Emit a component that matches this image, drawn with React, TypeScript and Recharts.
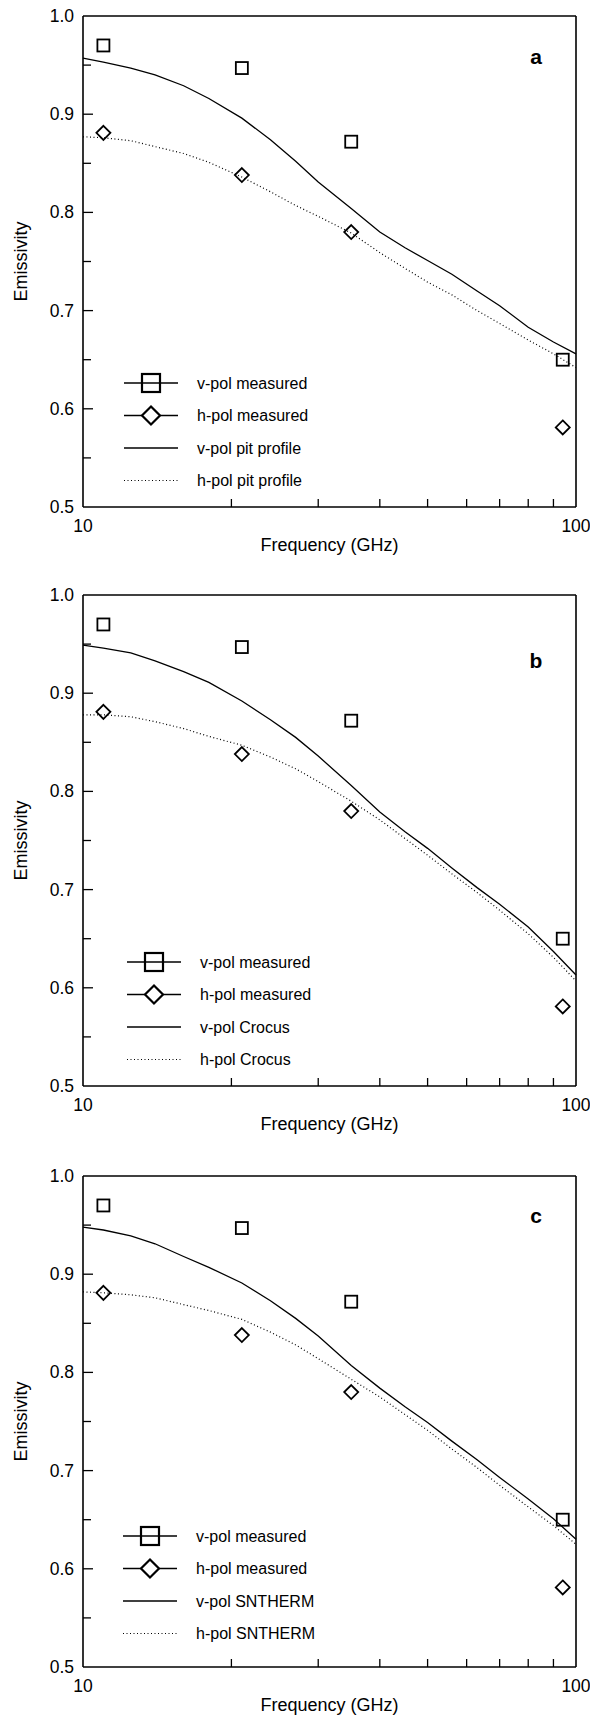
import React from 'react';
import { ComposedChart, Line, Scatter, XAxis, YAxis, Legend, Label } from 'recharts';

// ---------- data ----------
const MEAS_FREQ = [11, 21, 35, 94];
const V_MEAS = [0.97, 0.947, 0.872, 0.65];
const H_MEAS = [0.881, 0.838, 0.78, 0.581];

const MODEL_FREQ = [10, 11, 12.5, 14, 16, 18, 21, 24, 27, 30, 35, 40, 45, 50, 56, 63, 70, 80, 90, 100];
const V_PIT = [0.957, 0.953, 0.947, 0.94, 0.929, 0.916, 0.896, 0.874, 0.852, 0.831, 0.804, 0.78, 0.764, 0.751, 0.737, 0.72, 0.705, 0.683, 0.668, 0.656];
const H_PIT = [0.877, 0.876, 0.873, 0.867, 0.86, 0.851, 0.836, 0.821, 0.807, 0.796, 0.779, 0.759, 0.743, 0.729, 0.716, 0.7, 0.687, 0.67, 0.656, 0.642];
const V_CROCUS = [0.949, 0.946, 0.941, 0.933, 0.922, 0.911, 0.892, 0.873, 0.855, 0.836, 0.806, 0.779, 0.759, 0.742, 0.722, 0.702, 0.685, 0.662, 0.637, 0.613];
const H_CROCUS = [0.878, 0.878, 0.876, 0.871, 0.864, 0.856, 0.847, 0.835, 0.823, 0.81, 0.79, 0.771, 0.752, 0.735, 0.716, 0.697, 0.679, 0.655, 0.631, 0.607];
const V_SNTHERM = [0.948, 0.945, 0.939, 0.931, 0.918, 0.907, 0.891, 0.873, 0.855, 0.837, 0.807, 0.784, 0.765, 0.749, 0.73, 0.711, 0.693, 0.671, 0.651, 0.63];
const H_SNTHERM = [0.882, 0.881, 0.879, 0.876, 0.869, 0.863, 0.854, 0.841, 0.828, 0.814, 0.793, 0.775, 0.757, 0.741, 0.722, 0.703, 0.685, 0.663, 0.644, 0.625];

const X_TICKS = [10, 20, 30, 40, 50, 60, 70, 80, 90, 100];
const X_LABELED = [10, 100];
const Y_TICKS = [0.5, 0.55, 0.6, 0.65, 0.7, 0.75, 0.8, 0.85, 0.9, 0.95, 1.0];
const Y_LABELED = [0.5, 0.6, 0.7, 0.8, 0.9, 1.0];

const PANEL_LETTERS = ['a', 'b', 'c'];
const MODEL_NAMES = ['pit profile', 'Crocus', 'SNTHERM'];
const V_MODELS = [V_PIT, V_CROCUS, V_SNTHERM];
const H_MODELS = [H_PIT, H_CROCUS, H_SNTHERM];

// ---------- layout ----------
const FONT = '"Liberation Sans", Arial, Helvetica, sans-serif';
const PANEL_TOPS = [0, 579, 1160];
const LETTER_DY = [48, 73, 47];
const LEGEND_POS = [
  { left: 122, top: 372 },
  { left: 125, top: 372 },
  { left: 121, top: 365 },
];
const CHART_W = 590;
const CHART_H = 560;
const MARGIN = { top: 15, right: 13, bottom: 52, left: 82 };
const TICK_FONT = 17.5;

const toPoints = (fs: number[], es: number[]) => fs.map((f, i) => ({ f, e: es[i] }));

const Square = ({ cx, cy, s = 12, sw = 1.8 }: any) => (
  <rect x={cx - s / 2} y={cy - s / 2} width={s} height={s} fill="none" stroke="#000" strokeWidth={sw} />
);
const Diamond = ({ cx, cy, s = 14, sw = 1.8 }: any) => (
  <polygon
    points={`${cx},${cy - s / 2} ${cx + s / 2},${cy} ${cx},${cy + s / 2} ${cx - s / 2},${cy}`}
    fill="none"
    stroke="#000"
    strokeWidth={sw}
  />
);

const BottomTick = (p: any) => {
  const { x, y, payload } = p;
  const v = payload.value;
  const end = v === 10 || v === 100;
  return (
    <g>
      {!end && <line x1={x} x2={x} y1={y} y2={y - 8} stroke="#000" strokeWidth={1.3} />}
      {X_LABELED.includes(v) && (
        <text x={x} y={y + 19} textAnchor="middle" dominantBaseline="central" fontSize={TICK_FONT} fontFamily={FONT} fill="#000">
          {String(v)}
        </text>
      )}
    </g>
  );
};
const TopTick = (p: any) => {
  const { x, y, payload } = p;
  const v = payload.value;
  if (v === 10 || v === 100) return <g />;
  return <line x1={x} x2={x} y1={y} y2={y + 8} stroke="#000" strokeWidth={1.3} />;
};
const LeftTick = (p: any) => {
  const { x, y, payload } = p;
  const v = payload.value;
  const major = Y_LABELED.some((m) => Math.abs(m - v) < 1e-6);
  const end = Math.abs(v - 0.5) < 1e-6 || Math.abs(v - 1.0) < 1e-6;
  return (
    <g>
      {!end && <line x1={x} x2={x + (major ? 10 : 8)} y1={y} y2={y} stroke="#000" strokeWidth={1.3} />}
      {major && (
        <text x={x - 9} y={y} textAnchor="end" dominantBaseline="central" fontSize={TICK_FONT} fontFamily={FONT} fill="#000">
          {v.toFixed(1)}
        </text>
      )}
    </g>
  );
};
const RightTick = (p: any) => {
  const { x, y, payload } = p;
  const v = payload.value;
  const end = Math.abs(v - 0.5) < 1e-6 || Math.abs(v - 1.0) < 1e-6;
  if (end) return <g />;
  return <line x1={x} x2={x - 8} y1={y} y2={y} stroke="#000" strokeWidth={1.3} />;
};

const LegendBox = ({ model }: { model: string }) => {
  const rows = [
    { name: 'v-pol measured', kind: 'square' },
    { name: 'h-pol measured', kind: 'diamond' },
    { name: `v-pol ${model}`, kind: 'solid' },
    { name: `h-pol ${model}`, kind: 'dotted' },
  ];
  return (
    <svg width={260} height={130} style={{ display: 'block', overflow: 'visible' }}>
      {rows.map((r, i) => {
        const cy = 11 + i * 32.5;
        return (
          <g key={r.name}>
            <line
              x1={2}
              x2={56}
              y1={cy}
              y2={cy}
              stroke="#000"
              strokeWidth={r.kind === 'dotted' ? 1.2 : 1.3}
              strokeDasharray={r.kind === 'dotted' ? '1 2.5' : undefined}
            />
            {r.kind === 'square' && <Square cx={29} cy={cy} s={18} sw={2.2} />}
            {r.kind === 'diamond' && (
              <g>
                <rect x={20} y={cy - 10} width={18} height={20} fill="#fff" />
                <Diamond cx={29} cy={cy} s={18} sw={2.2} />
              </g>
            )}
            <text x={75} y={cy} dominantBaseline="central" fontSize={16} fontFamily={FONT} fill="#000">
              {r.name}
            </text>
          </g>
        );
      })}
    </svg>
  );
};

const Panel = ({ idx }: { idx: number }) => {
  const vMeas = toPoints(MEAS_FREQ, V_MEAS);
  const hMeas = toPoints(MEAS_FREQ, H_MEAS);
  const vModel = toPoints(MODEL_FREQ, V_MODELS[idx]);
  const hModel = toPoints(MODEL_FREQ, H_MODELS[idx]);
  const model = MODEL_NAMES[idx];
  return (
    <div style={{ position: 'absolute', left: 0, top: PANEL_TOPS[idx], width: CHART_W, height: CHART_H }}>
      <ComposedChart width={CHART_W} height={CHART_H} margin={MARGIN}>
        <XAxis
          xAxisId="bottom"
          dataKey="f"
          type="number"
          scale="log"
          domain={[10, 100]}
          ticks={X_TICKS}
          interval={0}
          height={1}
          tickSize={0}
          tickMargin={0}
          tickLine={false}
          tick={BottomTick}
          axisLine={{ stroke: '#000', strokeWidth: 1.6 }}
        >
          <Label
            content={(p: any) => {
              const vb = p.viewBox || {};
              return (
                <text x={vb.x + vb.width / 2} y={vb.y + 38} textAnchor="middle" dominantBaseline="central" fontSize={18} fontFamily={FONT} fill="#000">
                  Frequency (GHz)
                </text>
              );
            }}
          />
        </XAxis>
        <XAxis
          xAxisId="top"
          orientation="top"
          dataKey="f"
          type="number"
          scale="log"
          domain={[10, 100]}
          ticks={X_TICKS}
          interval={0}
          height={1}
          tickSize={0}
          tickMargin={0}
          tickLine={false}
          tick={TopTick}
          axisLine={{ stroke: '#000', strokeWidth: 1.6 }}
        >
          <Label
            content={(p: any) => {
              const vb = p.viewBox || {};
              return (
                <text x={vb.x + vb.width - 40} y={vb.y + vb.height + LETTER_DY[idx]} textAnchor="middle" fontSize={21} fontWeight="bold" fontFamily={FONT} fill="#000">
                  {PANEL_LETTERS[idx]}
                </text>
              );
            }}
          />
        </XAxis>
        <YAxis
          yAxisId="left"
          type="number"
          domain={[0.5, 1.0]}
          ticks={Y_TICKS}
          interval={0}
          width={1}
          tickSize={0}
          tickMargin={0}
          tickLine={false}
          tick={LeftTick}
          axisLine={{ stroke: '#000', strokeWidth: 1.6 }}
        >
          <Label
            content={(p: any) => {
              const vb = p.viewBox || {};
              const cy = vb.y + vb.height / 2;
              return (
                <text x={21} y={cy} transform={`rotate(-90 21 ${cy})`} textAnchor="middle" dominantBaseline="central" fontSize={18} fontFamily={FONT} fill="#000">
                  Emissivity
                </text>
              );
            }}
          />
        </YAxis>
        <YAxis
          yAxisId="right"
          orientation="right"
          type="number"
          domain={[0.5, 1.0]}
          ticks={Y_TICKS}
          interval={0}
          width={1}
          tickSize={0}
          tickMargin={0}
          tickLine={false}
          tick={RightTick}
          axisLine={{ stroke: '#000', strokeWidth: 1.6 }}
        />
        <Line
          xAxisId="bottom"
          yAxisId="left"
          data={vModel}
          dataKey="e"
          name={`v-pol ${model}`}
          type="linear"
          stroke="#000"
          strokeWidth={1.3}
          dot={false}
          activeDot={false}
          isAnimationActive={false}
        />
        <Line
          xAxisId="bottom"
          yAxisId="left"
          data={hModel}
          dataKey="e"
          name={`h-pol ${model}`}
          type="linear"
          stroke="#000"
          strokeWidth={1.2}
          strokeDasharray="1 2.5"
          dot={false}
          activeDot={false}
          isAnimationActive={false}
        />
        <Scatter
          xAxisId="bottom"
          yAxisId="left"
          data={vMeas}
          dataKey="e"
          name="v-pol measured"
          shape={(p: any) => <Square cx={p.cx} cy={p.cy} />}
          isAnimationActive={false}
        />
        <Scatter
          xAxisId="bottom"
          yAxisId="left"
          data={hMeas}
          dataKey="e"
          name="h-pol measured"
          shape={(p: any) => <Diamond cx={p.cx} cy={p.cy} />}
          isAnimationActive={false}
        />
        <Legend
          layout="vertical"
          align="center"
          verticalAlign="middle"
          wrapperStyle={{ left: LEGEND_POS[idx].left, top: LEGEND_POS[idx].top, width: 260, height: 130 }}
          content={() => <LegendBox model={model} />}
        />
      </ComposedChart>
    </div>
  );
}

export default function App() {
  return (
    <div style={{ position: 'absolute', left: 0, top: 0, width: 590, height: 1719, background: '#fff', overflow: 'hidden' }}>
      {[0, 1, 2].map((i) => (
        <Panel key={i} idx={i} />
      ))}
    </div>
  );
}
